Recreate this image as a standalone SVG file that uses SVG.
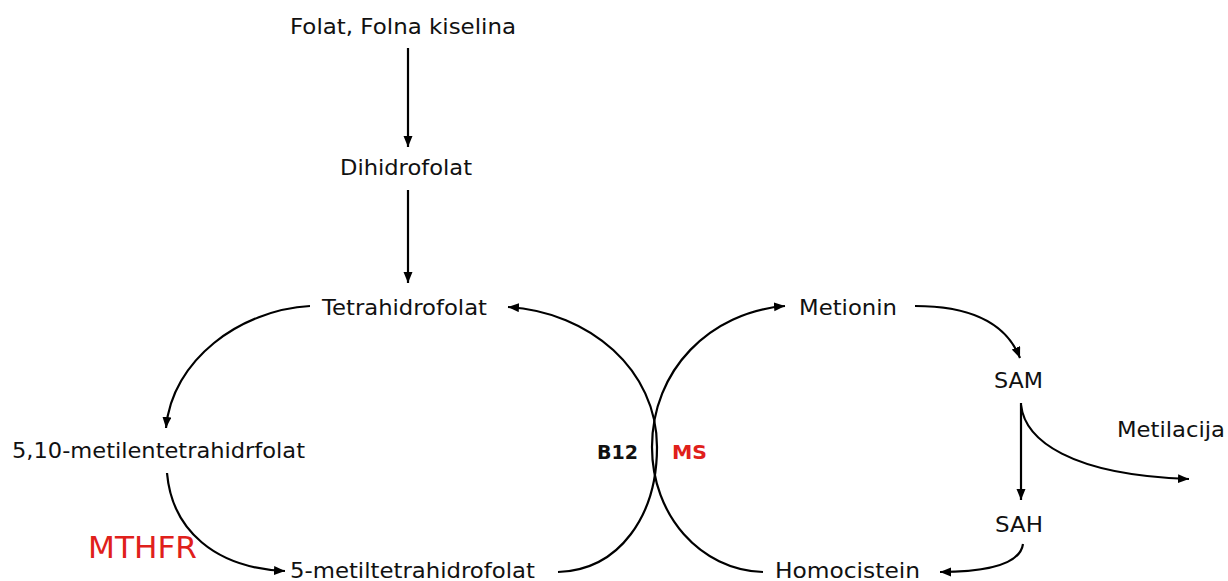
<svg xmlns="http://www.w3.org/2000/svg" width="1228" height="581" viewBox="0 0 1228 581">
  <style>
    .t { font-family: "DejaVu Sans", "Liberation Sans", sans-serif; font-size: 22px; fill: #111; }
    .b { font-family: "DejaVu Sans", "Liberation Sans", sans-serif; font-size: 20px; font-weight: bold; }
    .red { fill: #e0201b; }
    .c { fill: none; stroke: #000; stroke-width: 2.2; marker-end: url(#ah); }
  </style>
  <defs>
    <marker id="ah" markerUnits="userSpaceOnUse" markerWidth="12" markerHeight="10" refX="11" refY="4.5" orient="auto">
      <path d="M0,0 L11,4.5 L0,9 z" fill="#000"/>
    </marker>
  </defs>
  <rect width="1228" height="581" fill="#fff"/>

  <g id="connectors">
    <path class="c" d="M408 48 V147"/>
    <path class="c" d="M408 190 V283"/>
    <path class="c" d="M310 306 C 240 310, 172 360, 166 428"/>
    <path class="c" d="M167 473 C 172 530, 215 568, 285 571"/>
    <path class="c" d="M558 572 C 620 570, 657 515, 657 447 C 657 370, 590 312, 508 307"/>
    <path class="c" d="M763 572 C 700 570, 652 515, 652 447 C 652 370, 710 312, 785 306"/>
    <path class="c" d="M915 306 C 965 306, 1005 320, 1020 358"/>
    <path class="c" d="M1021 403 V500"/>
    <path class="c" d="M1021 405 C 1025 440, 1070 475, 1189 479"/>
    <path class="c" d="M1023 544 C 1020 565, 985 572, 940 572"/>
  </g>

  <g id="folat"><text class="t" x="290" y="34" textLength="226" lengthAdjust="spacingAndGlyphs">Folat, Folna kiselina</text></g>
  <g id="dihidrofolat"><text class="t" x="340" y="175" textLength="132" lengthAdjust="spacingAndGlyphs">Dihidrofolat</text></g>
  <g id="tetrahidrofolat"><text class="t" x="322" y="315" textLength="165" lengthAdjust="spacingAndGlyphs">Tetrahidrofolat</text></g>
  <g id="metionin"><text class="t" x="799" y="315" textLength="98" lengthAdjust="spacingAndGlyphs">Metionin</text></g>
  <g id="sam"><text class="t" x="994" y="388" textLength="49" lengthAdjust="spacingAndGlyphs">SAM</text></g>
  <g id="metilacija"><text class="t" x="1117" y="437" textLength="108" lengthAdjust="spacingAndGlyphs">Metilacija</text></g>
  <g id="sah"><text class="t" x="995" y="532" textLength="48" lengthAdjust="spacingAndGlyphs">SAH</text></g>
  <g id="metilentetrahidrfolat"><text class="t" x="12" y="458" textLength="293" lengthAdjust="spacingAndGlyphs">5,10-metilentetrahidrfolat</text></g>
  <g id="mthfr"><text class="t red" x="88" y="558" style="font-size:30px" textLength="109" lengthAdjust="spacingAndGlyphs">MTHFR</text></g>
  <g id="metiltetrahidrofolat"><text class="t" x="290" y="578" textLength="245" lengthAdjust="spacingAndGlyphs">5-metiltetrahidrofolat</text></g>
  <g id="homocistein"><text class="t" x="775" y="578" textLength="145" lengthAdjust="spacingAndGlyphs">Homocistein</text></g>
  <g id="b12"><text class="b" x="597" y="459" fill="#111" textLength="41" lengthAdjust="spacingAndGlyphs">B12</text></g>
  <g id="ms"><text class="b red" x="672" y="459" textLength="35" lengthAdjust="spacingAndGlyphs">MS</text></g>
</svg>
